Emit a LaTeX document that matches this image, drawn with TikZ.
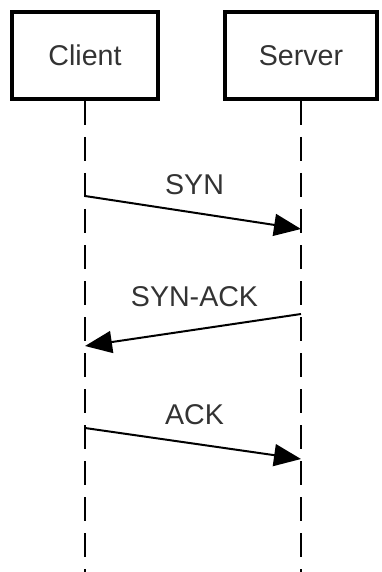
\documentclass[tikz,border=0pt]{standalone}
\usepackage{fontspec}
\setmainfont{Liberation Sans}
\usetikzlibrary{arrows.meta}
\definecolor{textgray}{HTML}{333333}

\tikzset{
  actor/.style={draw, line width=2pt, minimum height=43.5pt, inner sep=0pt,
    font=\fontsize{14.3}{17}\selectfont, text=textgray},
  lifeline/.style={line width=1pt, dash pattern=on 12pt off 6pt},
  msg/.style={line width=1pt, -{Triangle[length=13.5pt,width=11pt]}},
  msglabel/.style={inner sep=0pt, font=\fontsize{14.3}{17}\selectfont, text=textgray}
}

\begin{document}
\begin{tikzpicture}[x=0.5pt,y=-0.5pt]
        % canvas, in pixels of the reference
        \useasboundingbox (0,0) rectangle (381,572);

        %% the two parties
        \node[actor, minimum width=73pt] (client) at (85,55.5) {Client};
        \node[actor, minimum width=76pt] (server) at (301,55.5) {Server};

        %% lifelines
        \coordinate (clientend) at (85,572);
        \coordinate (serverend) at (301,572);
        \draw[lifeline] (client.south) -- (clientend);
        \draw[lifeline] (server.south) -- (serverend);

        %% end points of the messages
        \coordinate (syn1) at (85,196);
        \coordinate (syn2) at (301,229);
        \coordinate (synack1) at (301,314);
        \coordinate (synack2) at (85,346);
        \coordinate (ack1) at (85,428);
        \coordinate (ack2) at (301,459);

        %% messages
        \draw[msg] (syn1) -- (syn2);
        \node[msglabel] (synlabel) at (194.5,185) {SYN};
        \draw[msg] (synack1) -- (synack2);
        \node[msglabel] (synacklabel) at (194.5,296.5) {SYN-ACK};
        \draw[msg] (ack1) -- (ack2);
        \node[msglabel] (acklabel) at (194.5,415) {ACK};
      \end{tikzpicture}
\end{document}
